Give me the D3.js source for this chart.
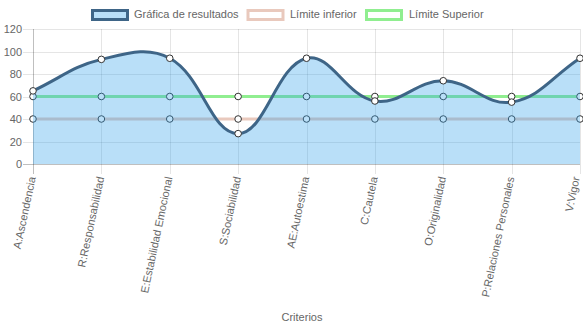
<!DOCTYPE html>
<html><head><meta charset="utf-8">
<script src="https://cdn.jsdelivr.net/npm/d3@7"></script>
<style>
html,body{margin:0;padding:0;background:#fff;}
svg{display:block;font-family:"Liberation Sans",Arial,Helvetica,sans-serif;}
</style></head>
<body>
<svg id="c" width="583" height="328"></svg>
<script>
const categories = ["A:Ascendencia","R:Responsabilidad","E:Estabilidad Emocional","S:Sociabilidad","AE:Autoestima","C:Cautela","O:Originalidad","P:Relaciones Personales","V:Vigor"];
const resultados = [65, 93, 94, 27, 94, 56, 74, 55, 94];
const limiteInferior = [40, 40, 40, 40, 40, 40, 40, 40, 40];
const limiteSuperior = [60, 60, 60, 60, 60, 60, 60, 60, 60];
const yTicks = [0, 20, 40, 60, 80, 100, 120];
const seriesNames = ["Gráfica de resultados", "Límite inferior", "Límite Superior"];
const xTitle = "Criterios";

(function () {
const pLeft = 33, pRight = 580, pTop = 29, pBottom = 164;
const svg = d3.select("#c");
const x = d3.scalePoint().domain(categories).range([pLeft, pRight]);
const y = d3.scaleLinear().domain([0, 120]).range([pBottom, pTop]);

const lineCol = "#3e6587", fillCol = "rgba(54,162,235,0.35)";
const infCol = "#e9c9bd", supCol = "#90ee90";

// grid
const g = svg.append("g");
g.selectAll(".hg").data(yTicks).join("line")
  .attr("x1", pLeft - 10).attr("x2", pRight).attr("y1", d => Math.round(y(d)) + 0.5).attr("y2", d => Math.round(y(d)) + 0.5)
  .attr("stroke", d => d === 0 ? "rgba(0,0,0,0.25)" : "rgba(0,0,0,0.1)").attr("stroke-width", 1);
g.selectAll(".vg").data(categories).join("line")
  .attr("x1", d => Math.round(x(d)) + 0.5).attr("x2", d => Math.round(x(d)) + 0.5)
  .attr("y1", pTop).attr("y2", pBottom + 10)
  .attr("stroke", (d, i) => i === 0 ? "rgba(0,0,0,0.25)" : "rgba(0,0,0,0.1)").attr("stroke-width", 1);

// y axis labels
const yAxis = d3.axisLeft(y).tickValues(yTicks).tickSize(0).tickPadding(11);
const ya = svg.append("g").attr("transform", `translate(${pLeft},0)`).call(yAxis);
ya.select(".domain").remove();
ya.selectAll("text").attr("fill", "#666").style("font-size", "11px").style("font-family", '"Liberation Sans",Arial,sans-serif');

// x labels
const xa = svg.append("g");
xa.selectAll("text").data(categories).join("text")
  .attr("transform", d => `translate(${Math.min(x(d), 577)},${pBottom + 13}) rotate(-78)`)
  .attr("text-anchor", "end").attr("dominant-baseline", "middle")
  .attr("fill", "#666").style("font-size", "11px").text(d => d);

svg.append("text").attr("x", 302).attr("y", 321).attr("text-anchor", "middle")
  .attr("fill", "#666").style("font-size", "11px").text(xTitle);

// Chart.js style spline
function chartjsPath(vals) {
  const pts = vals.map((v, i) => ({x: x(categories[i]), y: y(v)}));
  const t = 0.4;
  pts.forEach((p, i) => {
    const prev = pts[i - 1] || p, next = pts[i + 1] || p;
    const d01 = Math.hypot(p.x - prev.x, p.y - prev.y);
    const d12 = Math.hypot(next.x - p.x, next.y - p.y);
    let s01 = d01 / (d01 + d12), s12 = d12 / (d01 + d12);
    if (isNaN(s01)) s01 = 0; if (isNaN(s12)) s12 = 0;
    const fa = t * s01, fb = t * s12;
    p.cpPrev = {x: p.x - fa * (next.x - prev.x), y: p.y - fa * (next.y - prev.y)};
    p.cpNext = {x: p.x + fb * (next.x - prev.x), y: p.y + fb * (next.y - prev.y)};
    [p.cpPrev, p.cpNext].forEach(c => { c.y = Math.max(pTop, Math.min(pBottom, c.y)); c.x = Math.max(pLeft, Math.min(pRight, c.x)); });
  });
  const path = d3.path();
  path.moveTo(pts[0].x, pts[0].y);
  for (let i = 1; i < pts.length; i++) {
    const a = pts[i - 1], b = pts[i];
    path.bezierCurveTo(a.cpNext.x, a.cpNext.y, b.cpPrev.x, b.cpPrev.y, b.x, b.y);
  }
  return {d: path.toString(), pts};
}

function drawSeries(vals, col, fill) {
  const r = chartjsPath(vals);
  if (fill) {
    svg.append("path")
      .attr("d", r.d + `L${r.pts[r.pts.length - 1].x},${y(0)}L${r.pts[0].x},${y(0)}Z`)
      .attr("fill", fill).attr("stroke", "none");
  }
  svg.append("path").attr("d", r.d).attr("fill", "none").attr("stroke", col).attr("stroke-width", 3);
  svg.append("g").selectAll("circle").data(r.pts).join("circle")
    .attr("cx", d => d.x).attr("cy", d => d.y).attr("r", 3.3)
    .attr("fill", "#fff").attr("stroke", "#333").attr("stroke-width", 1);
}
// draw order: last dataset first (as Chart.js)
drawSeries(limiteSuperior, supCol, null);
drawSeries(limiteInferior, infCol, null);
drawSeries(resultados, lineCol, fillCol);

// legend
const legend = [
  {name: seriesNames[0], stroke: lineCol, fill: fillCol, bx: 92.5, tx: 134},
  {name: seriesNames[1], stroke: infCol, fill: "#fff", bx: 248, tx: 290},
  {name: seriesNames[2], stroke: supCol, fill: "#fff", bx: 366.5, tx: 409}
];
const lg = svg.append("g");
legend.forEach(l => {
  lg.append("rect").attr("x", l.bx).attr("y", 10.5).attr("width", 35).attr("height", 9)
    .attr("fill", l.fill).attr("stroke", l.stroke).attr("stroke-width", 3);
  lg.append("text").attr("x", l.tx).attr("y", 15).attr("dominant-baseline", "middle")
    .attr("fill", "#666").style("font-size", "11px").text(l.name);
});
})();
</script>
</body></html>
